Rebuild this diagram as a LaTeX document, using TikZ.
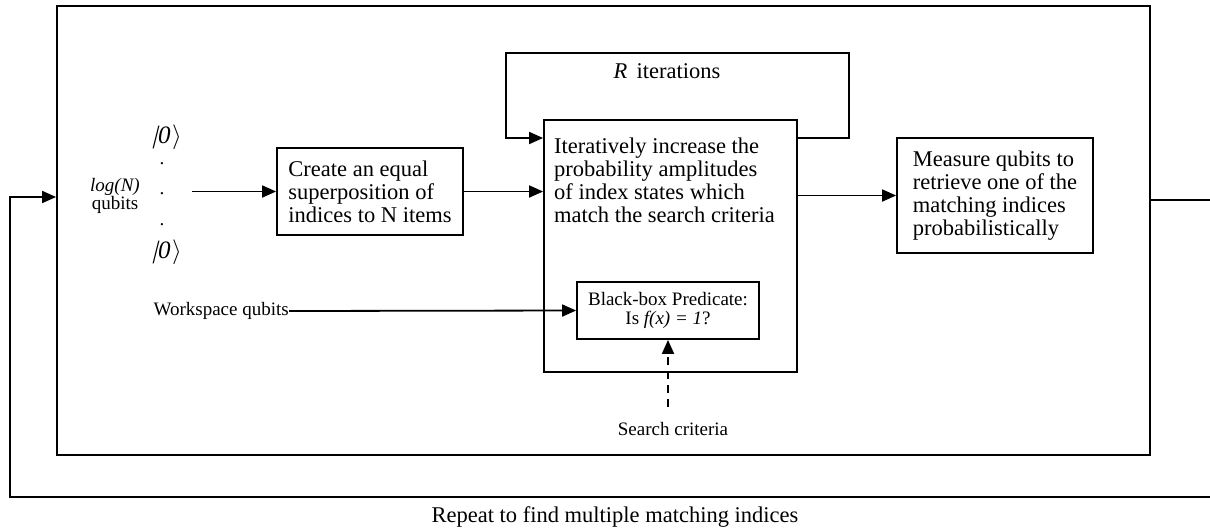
\documentclass[tikz,border=0pt]{standalone}
\usepackage{fontspec}
\setmainfont{Liberation Serif}
\newfontfamily\ketfont[FakeSlant=0.25]{Liberation Serif}
\usetikzlibrary{arrows.meta}
\newcommand\fbig{\fontsize{22.5}{22.8}\selectfont}
\newcommand\fsmall{\fontsize{19}{18.5}\selectfont}
\newcommand\fket{\fontsize{25}{25}\selectfont}
\newcommand\zeroket{{\ketfont|}\kern1pt\textit{0}\kern1.5pt\ensuremath{\rangle}}
\begin{document}
\begin{tikzpicture}[x=1pt,y=-1pt,
  ln/.style={line width=1.8pt},
  arr/.style={ln,-{Triangle[length=14pt,width=12pt]}},
  box/.style={draw,ln,inner sep=0pt,font=\fbig},
  lbl/.style={inner sep=0pt}]
\clip (0,0) rectangle (1210,531);
% outer frame
\node[box, minimum width=1093pt, minimum height=449pt] (outer) at (603.5,230.5) {};
% boxes
\node[box, minimum width=186pt, minimum height=87pt, align=left] (create) at (370,191.5)
  {Create an equal\\superposition of\\indices to N items};
\node[box, minimum width=253pt, minimum height=252pt] (iter) at (670.5,246) {};
\node[lbl, anchor=north west, align=left, font=\fbig] (itertext) at (554,138)
  {Iteratively increase the\\probability amplitudes\\of index states which\\match the search criteria};
\node[box, minimum width=182pt, minimum height=57pt, font=\fsmall, align=center] (black) at (668,310.5)
  {Black-box Predicate:\\Is \textit{f(x) = 1}?};
\node[box, minimum width=196pt, minimum height=115pt, align=left] (measure) at (995,195.5)
  {Measure qubits to\\retrieve one of the\\matching indices\\probabilistically};
% labels
\node[lbl, font=\fbig] (riter) at (667,71) {\textit{R}\, iterations};
\node[lbl, font=\fsmall, align=center] (logn) at (115,196) {\textit{log(N)}\\qubits};
\node[lbl, font=\fket] (ket1) at (167,137) {\zeroket};
\node[lbl, font=\fket] (ket2) at (167,252) {\zeroket};
\node[lbl, font=\fsmall, anchor=base] (d1) at (162,164) {.};
\node[lbl, font=\fsmall, anchor=base] (d2) at (162,194) {.};
\node[lbl, font=\fsmall, anchor=base] (d3) at (162,225) {.};
\node[lbl, font=\fsmall, anchor=east] (ws) at (289,311) {Workspace qubits};
\node[lbl, font=\fsmall] (sc) at (673,429) {Search criteria};
\node[lbl, font=\fbig] (repeat) at (615,517) {Repeat to find multiple matching indices};
% connectors
\coordinate (qin) at (192,191.5);
\draw[arr] (qin) -- (create.west);
\draw[arr] (create.east) -- (iter.west |- create.east);
\draw[arr] (iter.east |- measure.west) -- (measure.west);
\draw[arr] (ws.east) -- (black.west);
\coordinate (scTop) at (668,407);
\draw[arr, dash pattern=on 8pt off 6pt] (scTop) -- (black.south);
\coordinate (rl1) at (849,53);
\coordinate (rl2) at (506,53);
\draw[arr] (iter.east |- 0,138) -| (rl1) -- (rl2) |- (iter.west |- 0,138);
\coordinate (fb1) at (1230,200);
\coordinate (fb2) at (1230,497);
\coordinate (fb3) at (10,497);
\coordinate (fb4) at (10,197);
\draw[arr] (outer.east |- fb1) -- (fb1) -- (fb2) -- (fb3) -- (fb4) -- (outer.west |- fb4);
\end{tikzpicture}
\end{document}
